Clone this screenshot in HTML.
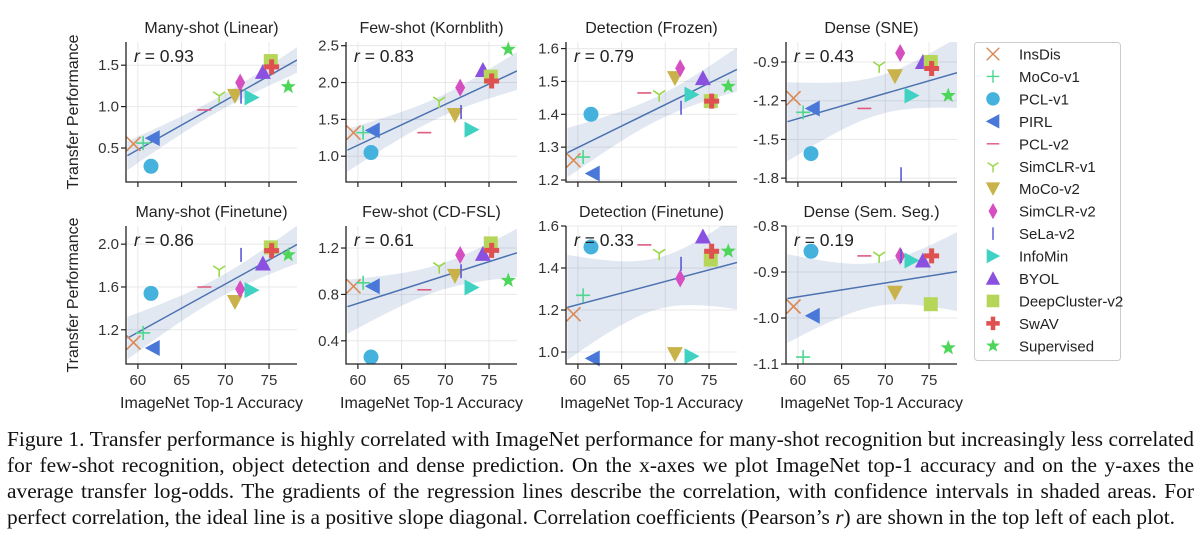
<!DOCTYPE html>
<html><head><meta charset="utf-8"><style>
body{margin:0;background:#fff;width:1200px;height:533px;overflow:hidden;font-family:"Liberation Sans",sans-serif}
svg{position:absolute;left:0;top:0}
#cap{position:absolute;left:7px;top:426px;width:1187px;font-family:"Liberation Serif",serif;font-size:21.4px;line-height:26px;color:#111}
#cap div{text-align:justify;text-align-last:justify;white-space:nowrap}
#cap div.last{text-align-last:left}
</style></head><body>
<svg id="fig" width="1200" height="425"></svg>
<div id="cap">
<div>Figure 1. Transfer performance is highly correlated with ImageNet performance for many-shot recognition but increasingly less correlated</div>
<div>for few-shot recognition, object detection and dense prediction. On the x-axes we plot ImageNet top-1 accuracy and on the y-axes the</div>
<div>average transfer log-odds. The gradients of the regression lines describe the correlation, with confidence intervals in shaded areas. For</div>
<div class="last">perfect correlation, the ideal line is a positive slope diagonal. Correlation coefficients (Pearson’s <i>r</i>) are shown in the top left of each plot.</div>
</div>
<script>
const methods=["InsDis","MoCo-v1","PCL-v1","PIRL","PCL-v2","SimCLR-v1","MoCo-v2","SimCLR-v2","SeLa-v2","InfoMin","BYOL","DeepCluster-v2","SwAV","Supervised"];
const accuracy=[59.5,60.6,61.5,61.7,67.6,69.3,71.1,71.7,71.8,73.0,74.3,75.2,75.3,77.2];
const titles=["Many-shot (Linear)","Few-shot (Kornblith)","Detection (Frozen)","Dense (SNE)","Many-shot (Finetune)","Few-shot (CD-FSL)","Detection (Finetune)","Dense (Sem. Seg.)"];
const rValues=["0.93","0.83","0.79","0.43","0.86","0.61","0.33","0.19"];
const yManyLinear=[0.55,0.56,0.28,0.62,0.96,1.13,1.13,1.29,1.12,1.11,1.42,1.55,1.48,1.24];
const yFewKornblith=[1.32,1.32,1.05,1.35,1.32,1.75,1.56,1.93,1.60,1.36,2.17,2.08,2.02,2.45];
const yDetFrozen=[1.26,1.27,1.40,1.22,1.465,1.46,1.51,1.54,1.42,1.46,1.51,1.44,1.44,1.485];
const yDenseSNE=[-1.18,-1.29,-1.61,-1.26,-1.26,-0.93,-1.01,-0.83,-1.77,-1.16,-0.90,-0.90,-0.95,-1.16];
const yManyFinetune=[1.08,1.17,1.54,1.03,1.60,1.76,1.46,1.58,1.90,1.57,1.82,1.97,1.94,1.90];
const yFewCDFSL=[0.87,0.90,0.26,0.87,0.84,1.04,0.96,1.14,1.00,0.86,1.15,1.24,1.18,0.92];
const yDetFinetune=[1.18,1.27,1.50,0.97,1.51,1.47,0.99,1.35,1.42,0.98,1.55,1.44,1.48,1.48];
const yDenseSeg=[-0.975,-1.085,-0.855,-0.995,-0.865,-0.865,-0.945,-0.865,-0.865,-0.875,-0.875,-0.97,-0.865,-1.065];
const xTicks=[60,65,70,75];
const yTicks=[[0.5,1.0,1.5],[1.0,1.5,2.0,2.5],[1.2,1.3,1.4,1.5,1.6],[-1.8,-1.5,-1.2,-0.9],[1.2,1.6,2.0],[0.4,0.8,1.2],[1.0,1.2,1.4,1.6],[-1.1,-1.0,-0.9,-0.8]];
const yLims=[[0.09,1.78],[0.65,2.55],[1.194,1.62],[-1.83,-0.745],[0.88,2.17],[0.20,1.39],[0.943,1.6],[-1.1,-0.8]];
const series=[yManyLinear,yFewKornblith,yDetFrozen,yDenseSNE,yManyFinetune,yFewCDFSL,yDetFinetune,yDenseSeg];
const colors=["#d98a55","#4fd68f","#45b2dd","#4a78d8","#df5a80","#9ad84a","#c9b24a","#d64fc0","#5a5ad6","#3fd2c2","#8a50e0","#b6d65a","#df5050","#4ed65a"];
const NS="http://www.w3.org/2000/svg";
const svg=document.getElementById('fig');
function mk(tag,attrs,parent){const e=document.createElementNS(NS,tag);for(const k in attrs)e.setAttribute(k,attrs[k]);(parent||svg).appendChild(e);return e;}
function marker(i,cx,cy,parent,s){
  s=s||1;const c=colors[i];const g=mk('g',{transform:`translate(${cx},${cy}) scale(${s})`},parent);
  switch(i){
    case 0:mk('path',{d:'M-7,-7L7,7M-7,7L7,-7',stroke:c,'stroke-width':1.6,fill:'none'},g);break;
    case 1:mk('path',{d:'M-7,0H7M0,-7V7',stroke:c,'stroke-width':1.6,fill:'none'},g);break;
    case 2:mk('circle',{r:7.5,fill:c},g);break;
    case 3:mk('path',{d:'M-8,0L7,-8L7,8Z',fill:c},g);break;
    case 4:mk('path',{d:'M-7,0H7',stroke:c,'stroke-width':1.6},g);break;
    case 5:mk('path',{d:'M0,0V7M0,0L-6,-4M0,0L6,-4',stroke:c,'stroke-width':1.6,fill:'none'},g);break;
    case 6:mk('path',{d:'M-8,-7L8,-7L0,8Z',fill:c},g);break;
    case 7:mk('path',{d:'M0,-9L5,0L0,9L-5,0Z',fill:c},g);break;
    case 8:mk('path',{d:'M0,-7V7',stroke:c,'stroke-width':1.6},g);break;
    case 9:mk('path',{d:'M8,0L-7,-8L-7,8Z',fill:c},g);break;
    case 10:mk('path',{d:'M0,-8L8,7L-8,7Z',fill:c},g);break;
    case 11:mk('rect',{x:-7,y:-7,width:14,height:14,fill:c},g);break;
    case 12:mk('path',{d:'M-2.5,-7.5H2.5V-2.5H7.5V2.5H2.5V7.5H-2.5V2.5H-7.5V-2.5H-2.5Z',fill:c},g);break;
    case 13:{let p='';for(let k=0;k<10;k++){const r=k%2?3.3:8,a=-Math.PI/2+k*Math.PI/5;p+=(k?'L':'M')+(r*Math.cos(a)).toFixed(2)+','+(r*Math.sin(a)).toFixed(2);}mk('path',{d:p+'Z',fill:c},g);break;}
  }
  return g;
}
const xMin=58.64,xMax=78.2,W=171;
for(let p=0;p<8;p++){
  const col=p%4,row=Math.floor(p/4);
  const L=126+220*col,T=row?226:42,B=row?364:182,H=B-T;
  const [y0,y1]=yLims[p];
  const X=v=>L+(v-xMin)/(xMax-xMin)*W;
  const Y=v=>B-(v-y0)/(y1-y0)*H;
  const g=mk('g',{});
  
  
  const clipId='c'+p;const cp=mk('clipPath',{id:clipId},g);mk('rect',{x:L,y:T,width:W,height:H},cp);
  xTicks.forEach(t=>mk('line',{x1:X(t),x2:X(t),y1:T,y2:B,stroke:'#e8e8e8','stroke-width':1},g));
  yTicks[p].forEach(t=>mk('line',{x1:L,x2:L+W,y1:Y(t),y2:Y(t),stroke:'#e8e8e8','stroke-width':1},g));
  const ys=series[p],n=ys.length;
  const mx=accuracy.reduce((a,b)=>a+b)/n,my=ys.reduce((a,b)=>a+b)/n;
  let sxx=0,sxy=0;for(let i=0;i<n;i++){sxx+=(accuracy[i]-mx)**2;sxy+=(accuracy[i]-mx)*(ys[i]-my);}
  const b=sxy/sxx,a=my-b*mx;
  let sse=0;for(let i=0;i<n;i++)sse+=(ys[i]-a-b*accuracy[i])**2;
  const s=Math.sqrt(sse/(n-2)),tq=2.18;
  const xs0=58.8,xs1=78.2;let up=[],lo=[];
  for(let k=0;k<=40;k++){const xv=xs0+(xs1-xs0)*k/40;const yv=a+b*xv;const h=tq*s*Math.sqrt(1/n+(xv-mx)**2/sxx);up.push([X(xv),Y(yv+h)]);lo.push([X(xv),Y(yv-h)]);}
  const band=mk('path',{d:'M'+up.map(q=>q.join(',')).join('L')+'L'+lo.reverse().map(q=>q.join(',')).join('L')+'Z',fill:'rgba(76,114,176,0.16)','clip-path':`url(#${clipId})`},g);
  
  
  const rl=mk('line',{x1:X(xs0),y1:Y(a+b*xs0),x2:X(xs1),y2:Y(a+b*xs1),stroke:'#4c72b0','stroke-width':1.5,'clip-path':`url(#${clipId})`},g);
  
  
  for(let i=0;i<n;i++){const m=marker(i,X(accuracy[i]),Y(ys[i]),g);
    
    }
  mk('path',{d:`M${L},${T}V${B}H${L+W}`,stroke:'#222','stroke-width':1.3,fill:'none'},g);
  xTicks.forEach(t=>{mk('line',{x1:X(t),x2:X(t),y1:B,y2:B+5,stroke:'#222','stroke-width':1.2},g);
    if(row){const tx=mk('text',{x:X(t),y:B+21,'text-anchor':'middle','font-size':15,fill:'#333'},g);tx.textContent=t;}});
  yTicks[p].forEach(t=>{mk('line',{x1:L-5,x2:L,y1:Y(t),y2:Y(t),stroke:'#222','stroke-width':1.2},g);
    const tx=mk('text',{x:L-7,y:Y(t)+5,'text-anchor':'end','font-size':15,fill:'#333'},g);tx.textContent=t.toFixed(1);});
  const tt=mk('text',{x:L+W/2,y:T-9,'text-anchor':'middle','font-size':16,fill:'#222'},g);tt.textContent=titles[p];
  
  
  const rt=mk('text',{x:L+8,y:T+20,'font-size':17.5,fill:'#222'},g);
  rt.innerHTML='<tspan font-style="italic">r</tspan> = '+rValues[p];
  
  
  if(row){const xl=mk('text',{x:L+W/2,y:B+44,'text-anchor':'middle','font-size':16,fill:'#222'},g);xl.textContent='ImageNet Top-1 Accuracy';
    
    }
  if(col===0){const cy=(T+B)/2;const yl=mk('text',{x:0,y:0,transform:`translate(${L-48},${cy}) rotate(-90)`,'text-anchor':'middle','font-size':16,fill:'#222'},g);yl.textContent='Transfer Performance';
    
    }
}
const lg=mk('g',{});


mk('rect',{x:974.5,y:42.5,width:146,height:318,rx:3,fill:'#fff',stroke:'#ccc'},lg);
methods.forEach((m,i)=>{const yy=54+i*22.45;
  const e=mk('g',{},lg);
  
  
  marker(i,993,yy,e,0.9);
  const t=mk('text',{x:1019,y:yy+5.5,'font-size':15,fill:'#222'},e);t.textContent=m;});
</script>
</body></html>
